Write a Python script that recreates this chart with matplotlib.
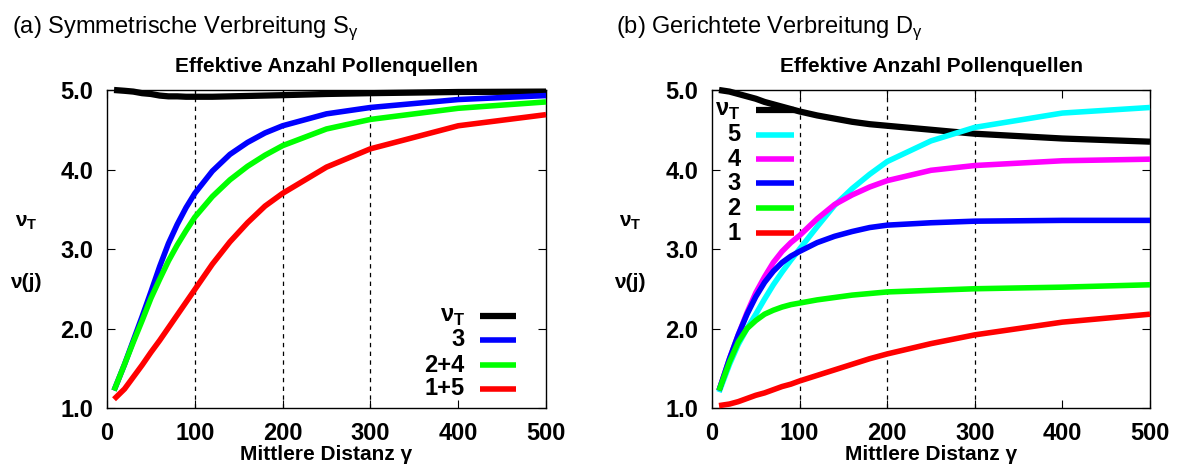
import numpy as np
import matplotlib
matplotlib.use("Agg")
import matplotlib.pyplot as plt

plt.rcParams["font.family"] = ["Liberation Sans", "DejaVu Sans"]

# mean distance gamma (same sampling for both panels)
gamma = [8, 20, 30, 40, 50, 60, 70, 80, 90, 100, 120, 140, 160, 180, 200, 250, 300, 400, 500]

# (a) symmetric dispersal
sym_total = [5.00, 4.99, 4.98, 4.96, 4.95, 4.93, 4.92, 4.92, 4.915, 4.915, 4.915, 4.92, 4.925,
             4.93, 4.935, 4.95, 4.96, 4.975, 4.98]
sym_3 = [1.22, 1.55, 1.85, 2.15, 2.46, 2.78, 3.07, 3.31, 3.52, 3.70, 3.98, 4.19, 4.34, 4.46,
         4.55, 4.70, 4.78, 4.88, 4.93]
sym_24 = [1.22, 1.55, 1.83, 2.10, 2.38, 2.62, 2.85, 3.05, 3.23, 3.40, 3.66, 3.87, 4.04, 4.18,
          4.30, 4.51, 4.63, 4.77, 4.85]
sym_15 = [1.11, 1.24, 1.39, 1.54, 1.70, 1.85, 2.01, 2.17, 2.33, 2.49, 2.81, 3.09, 3.33, 3.54,
          3.70, 4.03, 4.26, 4.55, 4.69]

# (b) directed dispersal
dir_total = [5.00, 4.98, 4.95, 4.92, 4.89, 4.85, 4.82, 4.79, 4.76, 4.73, 4.68, 4.64, 4.60, 4.57,
             4.55, 4.50, 4.45, 4.39, 4.35]
dir_5 = [1.20, 1.55, 1.80, 2.00, 2.18, 2.37, 2.55, 2.71, 2.86, 3.00, 3.28, 3.55, 3.76, 3.94,
         4.10, 4.36, 4.53, 4.71, 4.78]
dir_4 = [1.22, 1.62, 1.92, 2.20, 2.45, 2.65, 2.83, 2.97, 3.08, 3.17, 3.38, 3.56, 3.68, 3.78,
         3.86, 3.99, 4.05, 4.11, 4.13]
dir_3 = [1.22, 1.62, 1.92, 2.18, 2.40, 2.58, 2.72, 2.83, 2.91, 2.97, 3.08, 3.16, 3.22, 3.27,
         3.30, 3.33, 3.35, 3.36, 3.36]
dir_2 = [1.22, 1.58, 1.83, 2.00, 2.10, 2.18, 2.23, 2.27, 2.30, 2.32, 2.36, 2.39, 2.42, 2.44,
         2.46, 2.48, 2.50, 2.52, 2.55]
dir_1 = [1.03, 1.05, 1.08, 1.12, 1.16, 1.19, 1.23, 1.27, 1.30, 1.34, 1.41, 1.48, 1.55, 1.62,
         1.68, 1.81, 1.92, 2.08, 2.18]

NU_T = r"ν$_\mathregular{T}$"

sym_series = [
    (sym_total, NU_T, "black", 4.5),
    (sym_3, "3", "#0000ff", 4.0),
    (sym_24, "2+4", "#00ff00", 4.0),
    (sym_15, "1+5", "#ff0000", 4.0),
]
dir_series = [
    (dir_total, NU_T, "black", 4.5),
    (dir_5, "5", "#00ffff", 4.0),
    (dir_4, "4", "#ff00ff", 4.0),
    (dir_3, "3", "#0000ff", 4.0),
    (dir_2, "2", "#00ff00", 4.0),
    (dir_1, "1", "#ff0000", 4.0),
]


def draw_panel(ax, series, key_rows, key_text_x, key_line_x):
    ax.set_xlim(0, 500)
    ax.set_ylim(1.0, 5.0)

    for x in [100, 200, 300]:
        ax.axvline(x, color="black", lw=0.9, ls=(0, (3.5, 3.5)), zorder=1)

    for (vals, label, color, lw), row in zip(series, key_rows):
        ax.plot(gamma, vals, color=color, lw=lw, solid_capstyle="butt",
                clip_on=False, zorder=3)
        # key entry, gnuplot style: label right aligned, then the sample line
        ax.plot(key_line_x, [row, row], color=color, lw=lw, solid_capstyle="butt",
                transform=ax.transAxes, zorder=3)
        ax.text(key_text_x, row, label, transform=ax.transAxes, ha="right",
                va="center", fontsize=17, fontweight="bold")

    ax.set_xticks([0, 100, 200, 300, 400, 500])
    ax.set_yticks([1, 2, 3, 4, 5])
    ax.set_yticklabels([f"{v:.1f}" for v in [1, 2, 3, 4, 5]])
    ax.tick_params(direction="in", length=6, width=0.8, top=True, right=True,
                   labelsize=17, pad=10)
    for lab in ax.get_xticklabels() + ax.get_yticklabels():
        lab.set_fontweight("bold")
    for sp in ax.spines.values():
        sp.set_linewidth(1.0)

    ax.set_title("Effektive Anzahl Pollenquellen", fontsize=15, fontweight="bold", pad=13)
    ax.set_xlabel(r"Mittlere Distanz γ", fontsize=15, fontweight="bold", labelpad=0)


fig = plt.figure(figsize=(11.81, 4.73), dpi=100)
ax_a = fig.add_axes([107 / 1181, 65 / 473, 439 / 1181, 318 / 473])
ax_b = fig.add_axes([712 / 1181, 65 / 473, 438 / 1181, 318 / 473])

draw_panel(ax_a, sym_series, [0.289, 0.214, 0.135, 0.060], 0.815, [0.85, 0.931])
draw_panel(ax_b, dir_series, [0.937, 0.860, 0.783, 0.706, 0.628, 0.550], 0.065, [0.1005, 0.187])

fig.text(12 / 1181, 1 - 33 / 473, r"(a) Symmetrische Verbreitung S$_\mathregular{γ}$",
         fontsize=17, va="baseline", ha="left")
fig.text(616 / 1181, 1 - 33 / 473, r"(b) Gerichtete Verbreitung D$_\mathregular{γ}$",
         fontsize=17, va="baseline", ha="left")

for xc in [26, 630]:
    fig.text(xc / 1181, 1 - 222 / 473, NU_T, fontsize=15, fontweight="bold",
             ha="center", va="center")
    fig.text(xc / 1181, 1 - 282 / 473, "ν(j)", fontsize=15, fontweight="bold",
             ha="center", va="center")

fig.savefig("out.png", dpi=100)
